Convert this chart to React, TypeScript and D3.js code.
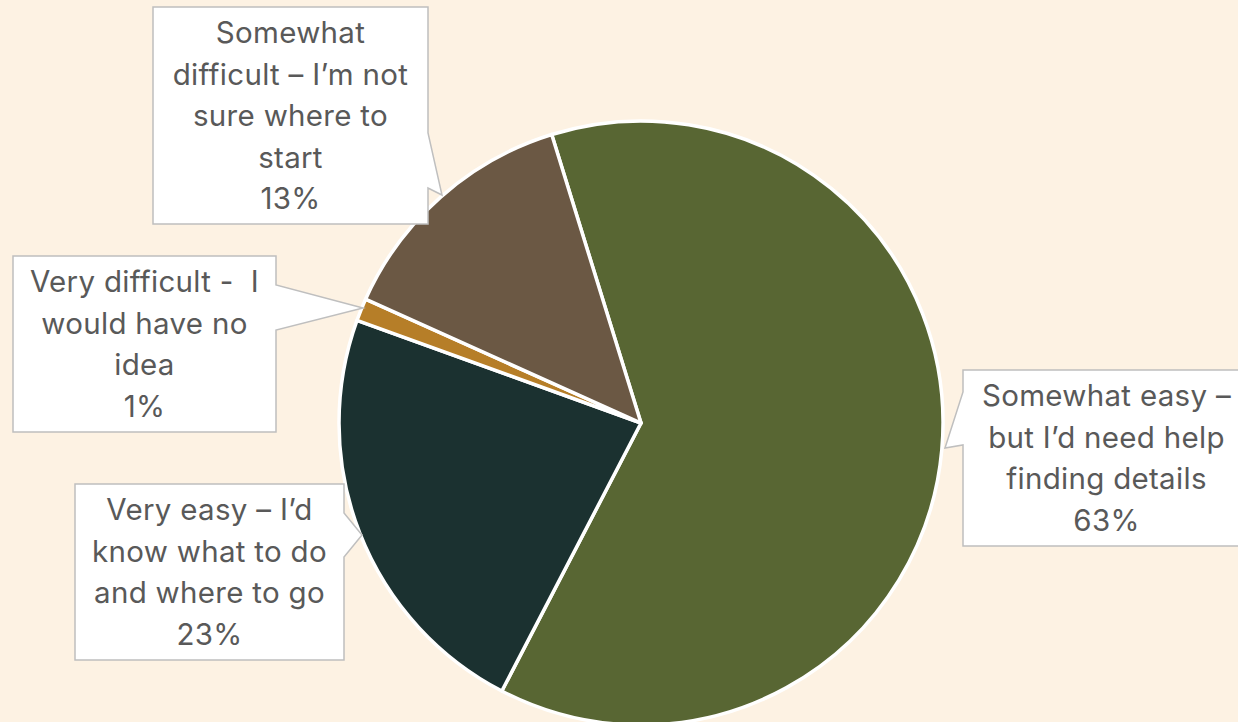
import React from "react";
import * as d3 from "d3";

const categories = [
  "Somewhat easy – but I’d need help finding details",
  "Very easy – I’d know what to do and where to go",
  "Very difficult -  I would have no idea",
  "Somewhat difficult – I’m not sure where to start",
];
const values = [62.4, 22.9, 1.2, 13.5];
const percentLabels = ["63%", "23%", "1%", "13%"];
const labelLines = [
  ["Somewhat easy –", "but I’d need help", "finding details"],
  ["Very easy – I’d", "know what to do", "and where to go"],
  ["Very difficult -  I", "would have no", "idea"],
  ["Somewhat", "difficult – I’m not", "sure where to", "start"],
];
const colors = ["#586633", "#1b3130", "#b67e28", "#6b5844"];

// callout layout: box [x0,y0,x1,y1], side of wedge, wedge base [a,b], tip [x,y]
const callouts = [
  { box: [963, 370, 1250, 546], side: "left", base: [392, 445], tip: [945, 448] },
  { box: [75, 484, 344, 660], side: "right", base: [513, 557], tip: [362, 535] },
  { box: [13, 256, 276, 432], side: "right", base: [285, 330], tip: [363, 308] },
  { box: [153, 7, 428, 224], side: "right", base: [133, 188], tip: [442, 195] },
];

function calloutPath(c: any) {
  const [x0, y0, x1, y1] = c.box;
  const [a, b] = c.base;
  const [tx, ty] = c.tip;
  if (c.side === "right") {
    return `M${x0},${y0}L${x1},${y0}L${x1},${a}L${tx},${ty}L${x1},${b}L${x1},${y1}L${x0},${y1}Z`;
  }
  return `M${x0},${y0}L${x1},${y0}L${x1},${y1}L${x0},${y1}L${x0},${b}L${tx},${ty}L${x0},${a}Z`;
}

export default function App() {
  const W = 1238, H = 722;
  const cx = 641, cy = 423, r = 302;
  const start = (-17.2 * Math.PI) / 180;
  const pie = d3.pie<number>().sort(null).value((d) => d).startAngle(start).endAngle(start + 2 * Math.PI);
  const arcs = pie(values);
  const arc = d3.arc<d3.PieArcDatum<number>>().innerRadius(0).outerRadius(r);
  const lh = 41.5;
  return (
    <svg width={W} height={H} style={{ position: "fixed", left: 0, top: 0, background: "#fdf2e3" }}>
      <rect width={W} height={H} fill="#fdf2e3" />
      <g transform={`translate(${cx},${cy})`}>
        {arcs.map((a, i) => (
          <path key={i} d={arc(a) as string} fill={colors[i]} stroke="#ffffff" strokeWidth={3.5} strokeLinejoin="round" />
        ))}
      </g>
      {callouts.map((c, i) => {
        const lines = [...labelLines[i], percentLabels[i]];
        const mx = (c.box[0] + c.box[2]) / 2;
        const my = (c.box[1] + c.box[3]) / 2;
        const y0 = my - ((lines.length - 1) * lh) / 2;
        return (
          <g key={i}>
            <path d={calloutPath(c)} fill="#ffffff" stroke="#bfbfbf" strokeWidth={1.5} />
            <text fontFamily="Inter, 'Open Sans', sans-serif" fontSize={29.5} letterSpacing={0.3} fill="#595959" textAnchor="middle">
              {lines.map((l, j) => (
                <tspan key={j} x={mx} y={y0 + j * lh} dy="0.36em" style={{ whiteSpace: "pre" }}>
                  {l}
                </tspan>
              ))}
            </text>
          </g>
        );
      })}
    </svg>
  );
}
